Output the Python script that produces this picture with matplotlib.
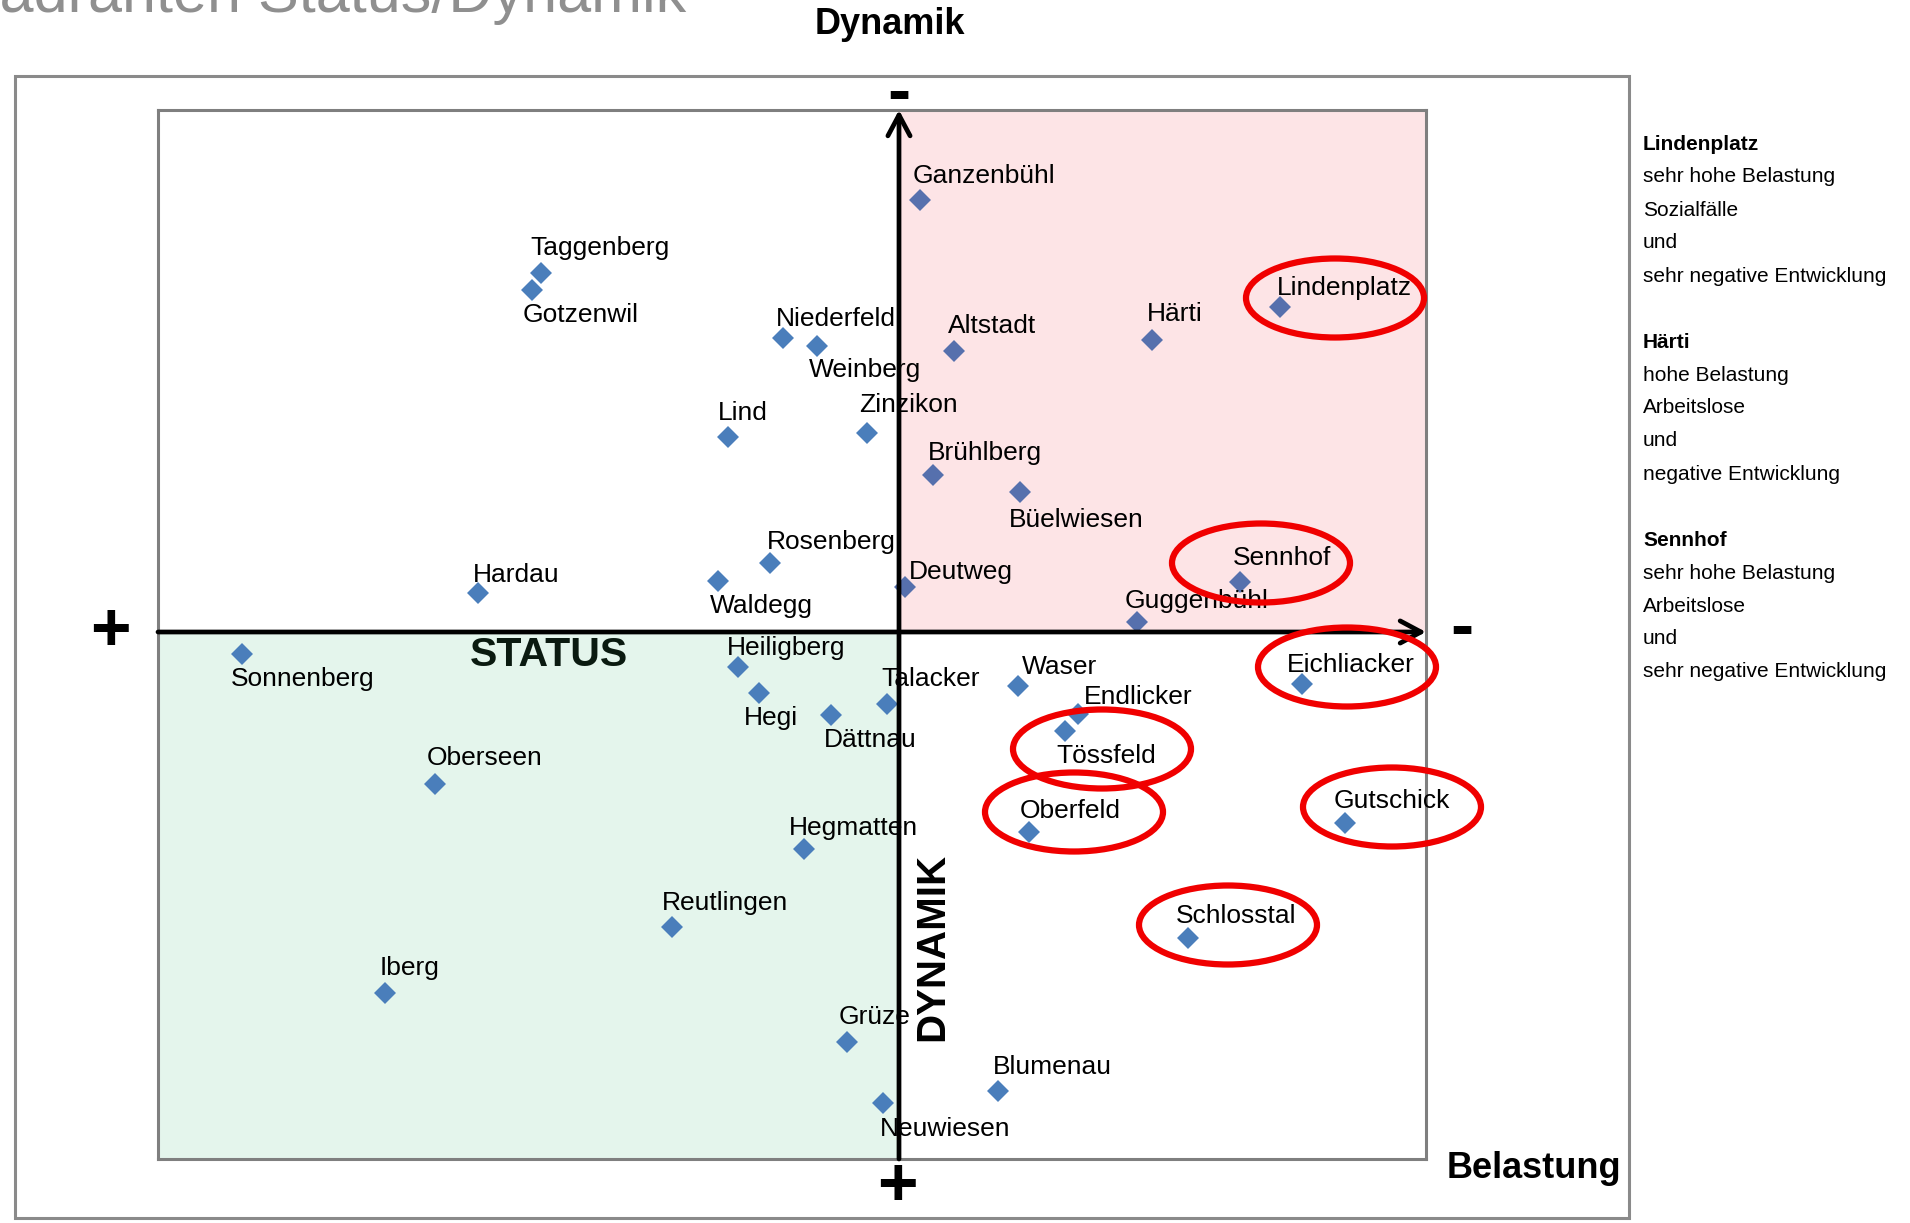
"""
Quadranten Status/Dynamik
Streudiagramm der Quartiere nach Status (Belastung) und Dynamik
"""

import matplotlib.pyplot as plt
from matplotlib.patches import Rectangle, Ellipse

plt.rcParams['font.family'] = ['Liberation Sans', 'DejaVu Sans']

# Quartiere und Lage im Quadranten (x: Status, y: Dynamik)
quartiere = ['Ganzenbühl', 'Taggenberg', 'Gotzenwil', 'Niederfeld', 'Weinberg',
             'Altstadt', 'Härti', 'Lindenplatz', 'Lind', 'Zinzikon', 'Brühlberg',
             'Büelwiesen', 'Rosenberg', 'Waldegg', 'Hardau', 'Deutweg', 'Sennhof',
             'Guggenbühl', 'Sonnenberg', 'Heiligberg', 'Hegi', 'Dättnau', 'Talacker',
             'Waser', 'Endlicker', 'Tössfeld', 'Eichliacker', 'Oberseen', 'Oberfeld',
             'Gutschick', 'Hegmatten', 'Reutlingen', 'Schlosstal', 'Iberg', 'Grüze',
             'Blumenau', 'Neuwiesen']
status = [0.21, -3.58, -3.67, -1.16, -0.82,
          0.55, 2.53, 3.81, -1.71, -0.32, 0.34,
          1.21, -1.29, -1.81, -4.21, 0.06, 3.41,
          2.38, -6.57, -1.61, -1.40, -0.68, -0.12,
          1.19, 1.79, 1.66, 4.03, -4.64, 1.30,
          4.46, -0.95, -2.27, 2.89, -5.14, -0.52,
          0.99, -0.16]
dynamik = [4.32, 3.59, 3.42, 2.94, 2.86,
           2.81, 2.92, 3.25, 1.95, 1.99, 1.57,
           1.40, 0.69, 0.51, 0.39, 0.45, 0.50,
           0.10, -0.22, -0.35, -0.61, -0.83, -0.72,
           -0.54, -0.82, -0.99, -0.52, -1.52, -2.00,
           -1.91, -2.17, -2.95, -3.06, -3.61, -4.10,
           -4.59, -4.71]

# Rot markierte Quartiere
markiert = ['Lindenplatz', 'Sennhof', 'Eichliacker', 'Tössfeld', 'Oberfeld',
            'Gutschick', 'Schlosstal']

# Kommentare rechts neben dem Diagramm
kommentare = [
    ('Lindenplatz', ['sehr hohe Belastung', 'Sozialfälle', 'und', 'sehr negative Entwicklung']),
    ('Härti', ['hohe Belastung', 'Arbeitslose', 'und', 'negative Entwicklung']),
    ('Sennhof', ['sehr hohe Belastung', 'Arbeitslose', 'und', 'sehr negative Entwicklung']),
]

# Position der Beschriftung relativ zum Punkt (Punkte)
label_offset = {
    'Ganzenbühl': (-5, 17), 'Taggenberg': (-8, 18), 'Gotzenwil': (-7, -18),
    'Niederfeld': (-5, 14), 'Weinberg': (-6, -17), 'Altstadt': (-4, 18),
    'Härti': (-4, 19), 'Lindenplatz': (-2, 14), 'Lind': (-7, 17),
    'Zinzikon': (-6, 20), 'Brühlberg': (-4, 16), 'Büelwiesen': (-8, -20),
    'Rosenberg': (-2, 15), 'Waldegg': (-6, -18), 'Hardau': (-4, 13),
    'Deutweg': (3, 11), 'Sennhof': (-5, 17), 'Guggenbühl': (-9, 15),
    'Sonnenberg': (-8, -18), 'Heiligberg': (-8, 14), 'Hegi': (-11, -18),
    'Dättnau': (-5, -18), 'Talacker': (-4, 18), 'Waser': (3, 14),
    'Endlicker': (4, 12), 'Tössfeld': (-6, -18), 'Eichliacker': (-11, 14),
    'Oberseen': (-6, 19), 'Oberfeld': (-7, 15), 'Gutschick': (-8, 16),
    'Hegmatten': (-11, 15), 'Reutlingen': (-7, 17), 'Schlosstal': (-9, 16),
    'Iberg': (-4, 18), 'Grüze': (-6, 18), 'Blumenau': (-4, 17),
    'Neuwiesen': (-2, -19),
}
# Ellipsenmitte relativ zum Punkt (Dateneinheiten)
ellipse_offset = {
    'Lindenplatz': (0.55, 0.09), 'Sennhof': (0.21, 0.19), 'Eichliacker': (0.45, 0.17),
    'Tössfeld': (0.37, -0.18), 'Oberfeld': (0.45, 0.20), 'Gutschick': (0.47, 0.16),
    'Schlosstal': (0.40, 0.13),
}

W, H = 1910, 1223


def fx(px):
    return px / W


def fy(py):
    return 1 - py / H


fig = plt.figure(figsize=(W / 100, H / 100), dpi=100)

# Rahmen aussen
fig.add_artist(Rectangle((fx(15), fy(1218)), fx(1629) - fx(15), fy(76) - fy(1218),
                         transform=fig.transFigure, fill=False, ec='#8a8a8a', lw=2.2))

ax = fig.add_axes([fx(158), fy(1159), fx(1426) - fx(158), fy(110) - fy(1159)])
xmin, xmax = -7.41, 5.27
ymin, ymax = -5.27, 5.22
ax.set_xlim(xmin, xmax)
ax.set_ylim(ymin, ymax)
ax.set_xticks([])
ax.set_yticks([])
for s in ax.spines.values():
    s.set_color('#7f7f7f')
    s.set_linewidth(2.2)

# Quadranten einfärben
ax.add_patch(Rectangle((0, 0), xmax, ymax, fc='#fde4e6', ec='none', zorder=0))
ax.add_patch(Rectangle((xmin, ymin), -xmin, -ymin, fc='#e4f5ec', ec='none', zorder=0))

# Punkte
farben = ['#5670ad' if (x > 0 and y > 0) else '#4a7ebb' for x, y in zip(status, dynamik)]
ax.scatter(status, dynamik, marker='D', s=125, c=farben, zorder=2, linewidths=0)

for name, x, y in zip(quartiere, status, dynamik):
    ax.annotate(name, (x, y), xytext=label_offset[name], textcoords='offset points',
                ha='left', va='center', fontsize=19, zorder=3)

# Achsen mit Pfeilen
pfeil = dict(arrowstyle='->,head_length=0.75,head_width=0.4', lw=3.4, color='black',
             shrinkA=0, shrinkB=0, mutation_scale=20)
ax.annotate('', xy=(xmax, 0), xytext=(xmin, 0), arrowprops=pfeil,
            annotation_clip=False, zorder=4)
ax.annotate('', xy=(0, ymax), xytext=(0, ymin), arrowprops=pfeil,
            annotation_clip=False, zorder=4)

ax.text(-4.29, -0.23, 'STATUS', fontsize=29.5, fontweight='bold', ha='left', va='center',
        color='#0a1a10', zorder=3)
ax.text(0.33, -3.15, 'DYNAMIK', fontsize=29, fontweight='bold', rotation=90,
        ha='center', va='center', zorder=3)

# Ellipsen um markierte Quartiere
for name in markiert:
    i = quartiere.index(name)
    dx, dy = ellipse_offset[name]
    ax.add_patch(Ellipse((status[i] + dx, dynamik[i] + dy), 1.78, 0.79, fill=False,
                         ec='#f00000', lw=4.5, zorder=5, clip_on=False))

# Beschriftungen ausserhalb
fig.text(fx(686), fy(12), 'Quadranten Status/Dynamik', fontsize=44, color='#8f8f8f',
         ha='right', va='baseline')
fig.text(fx(890), fy(24), 'Dynamik', fontsize=26, fontweight='bold', ha='center', va='center')
fig.text(fx(1621), fy(1168), 'Belastung', fontsize=26, fontweight='bold', ha='right', va='center')
fig.text(fx(110), fy(632), '+', fontsize=50, fontweight='bold', ha='center', va='center')
fig.text(fx(897), fy(1187), '+', fontsize=50, fontweight='bold', ha='center', va='center')
fig.text(fx(1462), fy(630), '-', fontsize=50, fontweight='bold', ha='center', va='center')
fig.text(fx(899), fy(95), '-', fontsize=50, fontweight='bold', ha='center', va='center')

# Kommentarblock rechts
y = 144
for titel, zeilen in kommentare:
    fig.text(fx(1643), fy(y), titel, fontsize=15, fontweight='bold', va='center')
    y += 33
    for z in zeilen:
        fig.text(fx(1643), fy(y), z, fontsize=15, va='center')
        y += 33
    y += 33

plt.savefig('out.png', dpi=100)
